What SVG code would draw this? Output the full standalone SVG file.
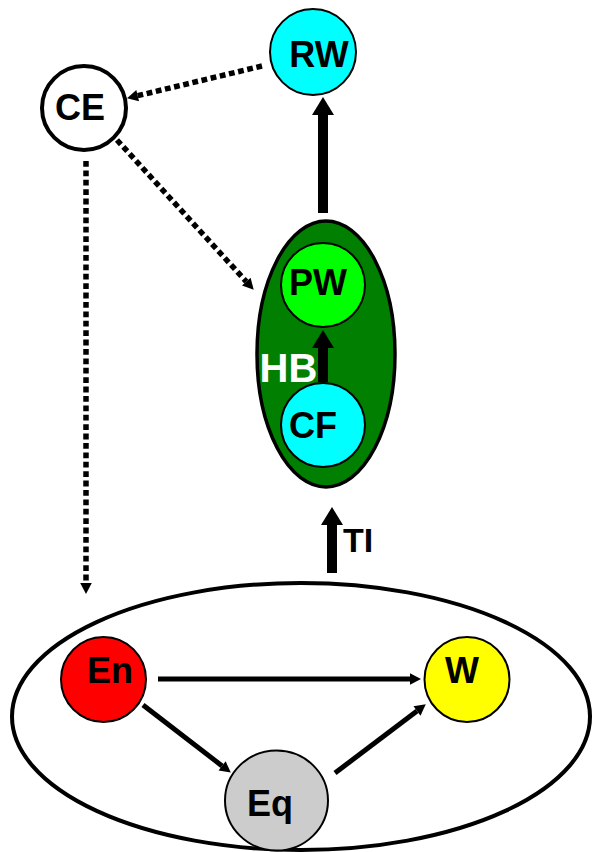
<svg xmlns="http://www.w3.org/2000/svg" width="592" height="852" viewBox="0 0 592 852">
<style>
.lbl{font-family:"Liberation Sans",Arial,sans-serif;font-weight:bold;font-size:36px;fill:#000;text-anchor:middle}
.node{stroke:#000;stroke-width:2}
.dot{fill:none;stroke:#000;stroke-width:5.5;stroke-dasharray:5.8 3.6}
.thick{fill:none;stroke:#000;stroke-width:10}
.thin{fill:none;stroke:#000;stroke-width:5}
</style>
<defs>
<marker id="hs" markerUnits="userSpaceOnUse" markerWidth="14" markerHeight="14" refX="0" refY="7" orient="auto" overflow="visible">
<path d="M0,1.2 L11,7 L0,12.8 z" fill="#000"/>
</marker>
<marker id="hb" markerUnits="userSpaceOnUse" markerWidth="20" markerHeight="24" refX="0" refY="11" orient="auto" overflow="visible">
<path d="M0,0 L18,11 L0,22 z" fill="#000"/>
</marker>
</defs>
<g id="outer">
<ellipse cx="301" cy="716.5" rx="289" ry="133.5" fill="#fff" stroke="#000" stroke-width="4"/>
</g>
<g id="HB">
<ellipse cx="326" cy="354" rx="69" ry="133" fill="#007f00" stroke="#000" stroke-width="3.5"/>
<text class="lbl" x="288.5" y="382" style="fill:#fff;font-size:40px">HB</text>
</g>
<g id="RW">
<circle class="node" cx="313" cy="52" r="43" fill="#00ffff"/>
<text class="lbl" x="319" y="67">RW</text>
</g>
<g id="CE">
<circle cx="84" cy="108" r="42" fill="#fff" stroke="#000" stroke-width="4"/>
<text class="lbl" x="80" y="120">CE</text>
</g>
<g id="PW">
<circle class="node" cx="323" cy="285" r="42" fill="#00ff00"/>
<text class="lbl" x="318" y="295">PW</text>
</g>
<g id="CF">
<circle class="node" cx="323" cy="425" r="42" fill="#00ffff"/>
<text class="lbl" x="313" y="438">CF</text>
</g>
<g id="En">
<circle class="node" cx="103.5" cy="679.5" r="42.5" fill="#ff0000"/>
<text class="lbl" x="110" y="683">En</text>
</g>
<g id="W">
<circle class="node" cx="467" cy="679.5" r="42.5" fill="#ffff00"/>
<text class="lbl" x="462" y="683">W</text>
</g>
<g id="Eq">
<ellipse class="node" cx="276.5" cy="800.5" rx="51.5" ry="50" fill="#cccccc"/>
<text class="lbl" x="270" y="816">Eq</text>
</g>
<g id="connectors">
<path class="dot" d="M262,66 L137.7,95.7" marker-end="url(#hs)"/>
<path class="dot" d="M117,140 L246.3,281.6" marker-end="url(#hs)"/>
<path class="dot" d="M86,161 L86,583" marker-end="url(#hs)"/>
<path class="thick" d="M323,213 L323,115" marker-end="url(#hb)"/>
<path class="thick" d="M323,382 L323,348" marker-end="url(#hb)"/>
<path class="thick" d="M332,573 L332,525" marker-end="url(#hb)"/>
<text class="lbl" x="358" y="552" style="font-size:34px">TI</text>
<path class="thin" d="M158,679 L410,679" marker-end="url(#hs)"/>
<path class="thin" d="M143,705 L222.1,765.9" marker-end="url(#hs)"/>
<path class="thin" d="M335,773 L417,711" marker-end="url(#hs)"/>
</g>
</svg>
